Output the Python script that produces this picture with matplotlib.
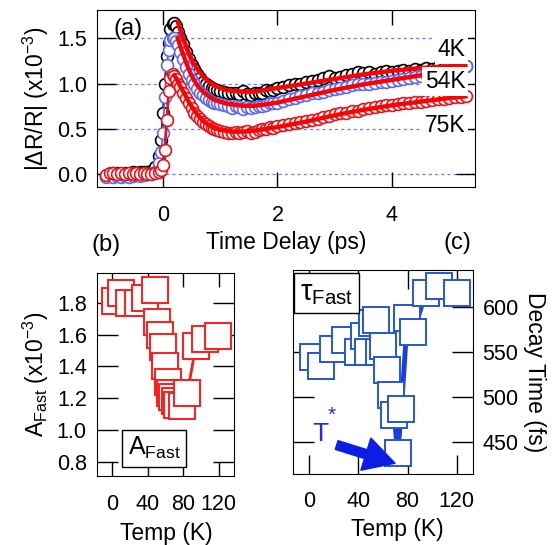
import matplotlib
matplotlib.use("Agg")
import matplotlib.pyplot as plt

plt.rcParams['font.family'] = ['Liberation Sans', 'DejaVu Sans']
plt.rcParams['mathtext.fontset'] = 'custom'
plt.rcParams['mathtext.rm'] = 'Liberation Sans'
plt.rcParams['mathtext.it'] = 'Liberation Sans:italic'
plt.rcParams['mathtext.bf'] = 'Liberation Sans:bold'

# ---- panel (a): transient reflectivity, units of 1e-3 ----
t = [-1.0, -0.93, -0.87, -0.8, -0.73, -0.67, -0.6, -0.53, -0.47, -0.4, -0.33, -0.27, -0.2, -0.13,
     -0.07, -0.03, 0.0, 0.03, 0.07, 0.1, 0.13, 0.17, 0.2, 0.23, 0.27, 0.3, 0.35, 0.4, 0.45, 0.5,
     0.55, 0.6, 0.65, 0.7, 0.75, 0.8, 0.85, 0.9, 0.95, 1.0, 1.07, 1.13, 1.2, 1.27, 1.33, 1.4,
     1.47, 1.53, 1.6, 1.67, 1.73, 1.8, 1.87, 1.93, 2.0, 2.1, 2.2, 2.3, 2.4, 2.5, 2.6, 2.7, 2.8,
     2.9, 3.0, 3.1, 3.2, 3.3, 3.4, 3.5, 3.6, 3.7, 3.8, 3.9, 4.0, 4.1, 4.2, 4.3, 4.4, 4.5, 4.6,
     4.7, 4.8, 4.9, 5.0, 5.1, 5.2, 5.3]
dr_4k = [-0.02, 0.0, 0.01, 0.01, 0.0, 0.01, 0.0, 0.02, 0.01, 0.03, 0.03, 0.02, 0.04, 0.08,
         0.2, 0.38, 0.68, 1.0, 1.3, 1.45, 1.6, 1.66, 1.67, 1.63, 1.57, 1.5, 1.43, 1.35, 1.27, 1.2,
         1.16, 1.1, 1.06, 1.02, 0.99, 0.97, 0.95, 0.94, 0.93, 0.92, 0.91, 0.9, 0.89, 0.9, 0.88, 0.92,
         0.88, 0.87, 0.9, 0.9, 0.89, 0.93, 0.92, 0.93, 0.95, 0.96, 0.98, 1.0, 0.99, 1.02, 1.03, 1.04, 1.06,
         1.08, 1.06, 1.07, 1.09, 1.1, 1.13, 1.12, 1.13, 1.11, 1.13, 1.14, 1.13, 1.14, 1.15, 1.14, 1.16, 1.15, 1.17,
         1.16, 1.18, 1.17, 1.18, 1.19, 1.18, 1.19]
dr_54k = [-0.03, -0.02, -0.03, -0.02, -0.03, -0.02, -0.03, -0.02, -0.01, -0.02, -0.01, 0.0, 0.0, 0.03,
          0.12, 0.25, 0.45, 0.85, 1.2, 1.37, 1.48, 1.5, 1.5, 1.47, 1.42, 1.35, 1.27, 1.18, 1.11, 1.04,
          0.99, 0.94, 0.9, 0.87, 0.84, 0.82, 0.8, 0.79, 0.78, 0.77, 0.76, 0.75, 0.73, 0.75, 0.74, 0.72,
          0.74, 0.73, 0.74, 0.75, 0.75, 0.76, 0.78, 0.78, 0.79, 0.81, 0.83, 0.84, 0.86, 0.87, 0.89, 0.9, 0.91,
          0.93, 0.94, 0.95, 0.96, 0.98, 0.99, 0.99, 1.0, 1.01, 1.02, 1.02, 1.03, 1.04, 1.05, 1.06, 1.07, 1.08, 1.1,
          1.12, 1.14, 1.15, 1.17, 1.18, 1.2, 1.19]
dr_75k = [-0.01, 0.01, 0.01, 0.0, 0.01, 0.0, 0.01, 0.0, 0.01, 0.0, 0.01, 0.0, 0.0, 0.01,
          0.02, 0.05, 0.1, 0.27, 0.6, 0.92, 1.06, 1.1, 1.08, 1.05, 1.0, 0.96, 0.9, 0.84, 0.78, 0.73,
          0.68, 0.64, 0.61, 0.58, 0.55, 0.53, 0.51, 0.5, 0.49, 0.48, 0.47, 0.45, 0.46, 0.47, 0.45, 0.47,
          0.48, 0.46, 0.47, 0.49, 0.5, 0.5, 0.52, 0.51, 0.53, 0.54, 0.55, 0.57, 0.58, 0.59, 0.6, 0.61, 0.63,
          0.64, 0.66, 0.67, 0.68, 0.7, 0.7, 0.72, 0.73, 0.74, 0.75, 0.76, 0.76, 0.77, 0.78, 0.79, 0.8, 0.8, 0.81,
          0.82, 0.83, 0.83, 0.84, 0.85, 0.85, 0.86]

fit_t = [0.25, 0.28, 0.32, 0.36, 0.4, 0.45, 0.5, 0.55, 0.6, 0.7, 0.8, 0.9, 1.0, 1.1, 1.2, 1.4,
         1.6, 1.8, 2.0, 2.5, 3.0, 3.5, 4.0, 4.5, 5.0, 5.32]
fit_4k = [1.70, 1.64, 1.56, 1.49, 1.42, 1.34, 1.27, 1.21, 1.16, 1.08, 1.02, 0.98, 0.95, 0.93, 0.92, 0.91,
          0.91, 0.93, 0.95, 1.0, 1.05, 1.1, 1.14, 1.17, 1.19, 1.2]
fit_54k = [1.52, 1.46, 1.38, 1.31, 1.24, 1.16, 1.09, 1.03, 0.98, 0.91, 0.86, 0.82, 0.8, 0.78, 0.77, 0.755,
           0.755, 0.77, 0.79, 0.86, 0.93, 0.99, 1.04, 1.09, 1.14, 1.17]
fit75_t = [0.17, 0.2, 0.25, 0.28, 0.32, 0.36, 0.4, 0.45, 0.5, 0.55, 0.6, 0.7, 0.8, 0.9, 1.0, 1.1, 1.2,
           1.4, 1.6, 1.8, 2.0, 2.5, 3.0, 3.5, 4.0, 4.5, 5.0, 5.32]
fit_75k = [1.1, 1.09, 1.04, 1.0, 0.95, 0.91, 0.86, 0.8, 0.75, 0.7, 0.66, 0.59, 0.54, 0.51, 0.49, 0.48, 0.47,
           0.47, 0.48, 0.5, 0.52, 0.58, 0.65, 0.71, 0.76, 0.8, 0.84, 0.86]

# ---- panel (b): fast amplitude vs temperature ----
temp_b = [3.4, 10.1, 19.2, 28.5, 37.2, 47.7, 50.3, 54.1, 56.7, 59.7, 62.3, 65.4, 67.9, 71.0,
          73.6, 79.2, 84.8, 94.3, 104.8, 119.4]
a_fast = [1.81, 1.86, 1.80, 1.80, 1.83, 1.88, 1.68, 1.60, 1.52, 1.40, 1.30, 1.23, 1.21, 1.18,
          1.16, 1.15, 1.23, 1.53, 1.57, 1.59]

# ---- panel (c): fast decay time vs temperature ----
temp_c = [3.0, 9.8, 19.6, 29.3, 39.4, 44.6, 47.5, 50.8, 54.1, 56.8, 60.3, 63.0, 66.3, 69.0,
          72.0, 75.0, 79.8, 84.7, 94.8, 105.4, 120.1]
tau_fast = [545, 534, 554, 564, 550, 568, 550, 582, 586, 550, 557, 530, 502, 480,
            437, 486, 588, 572, 616, 624, 616]

fig = plt.figure(figsize=(5.55, 5.45), dpi=100)

# panel (a)
ax = fig.add_axes([0.1748, 0.6574, 0.6811, 0.3243])
for yv in [0.0, 0.5, 1.0, 1.5]:
    ax.axhline(yv, color='#6f78ff', lw=0.9, ls=(0, (2.5, 2.5)), zorder=0)
ax.plot(t, dr_4k, '-o', color='black', lw=1.3, ms=8.5, mfc='white', mew=1.2, zorder=2)
ax.plot(t, dr_54k, '-o', color='#5a68f5', lw=1.3, ms=8.5, mfc='white', mew=1.2, zorder=3)
ax.plot(t, dr_75k, '-o', color='#e3151b', lw=2.0, ms=8.5, mfc='white', mew=1.2, zorder=4)
ax.plot(fit_t, fit_4k, color='#ff0000', lw=3.2, zorder=5, solid_capstyle='butt')
ax.plot(fit_t, fit_54k, color='#ff0000', lw=3.2, zorder=5, solid_capstyle='butt')
ax.plot(fit75_t, fit_75k, color='#ff0000', lw=3.2, zorder=5, solid_capstyle='butt')
ax.set_xlim(-1.15, 5.45)
ax.set_ylim(-0.137, 1.81)
ax.set_xticks([0, 2, 4])
ax.set_yticks([0.0, 0.5, 1.0, 1.5])
ax.set_yticklabels(['0.0', '0.5', '1.0', '1.5'])
ax.tick_params(direction='in', top=True, right=True, labelsize=15.5, width=1)
ax.tick_params(axis='y', length=14, pad=7)
ax.tick_params(axis='x', length=11, pad=13)
ax.set_xlabel('Time Delay (ps)', fontsize=16.5, labelpad=4)
ax.set_ylabel('|ΔR/R| (x10$^{-3}$)', fontsize=16.5)
ax.text(-0.6, 1.6, '(a)', fontsize=17, ha='center', va='center')
for lab, yv in [('4K', 1.37), ('54K', 1.02), ('75K', 0.54)]:
    ax.text(5.28, yv, lab, fontsize=16.5, ha='right', va='center', zorder=10,
            bbox=dict(facecolor='white', edgecolor='none', pad=2))

# panel (b)
axb = fig.add_axes([0.1739, 0.1266, 0.2477, 0.373])
axb.plot(temp_b, a_fast, '-s', color='#ff1a1a', lw=2, ms=19, mfc='white', mew=1.4)
axb.set_xlim(-18, 137.5)
axb.set_ylim(0.71, 1.99)
axb.set_xticks([0, 40, 80, 120])
axb.set_yticks([0.8, 1.0, 1.2, 1.4, 1.6, 1.8])
axb.tick_params(direction='in', top=True, right=True, labelsize=15.5, width=1)
axb.tick_params(axis='y', length=15, pad=7)
axb.tick_params(axis='x', length=10, pad=13)
axb.set_xlabel('Temp (K)', fontsize=16.5)
axb.xaxis.set_label_coords(0.51, -0.225)
axb.set_ylabel('A$_{\\mathregular{Fast}}$ (x10$^{-3}$)', fontsize=16.5)
axb.text(47, 0.885, 'A$_{\\mathregular{Fast}}$', fontsize=18, ha='center', va='center',
         bbox=dict(boxstyle='square,pad=0.22', facecolor='white', edgecolor='black', lw=1))

# panel (c)
axc = fig.add_axes([0.5285, 0.1303, 0.3232, 0.3743])
axc.plot(temp_c, tau_fast, '-s', color='#1a3ee0', lw=3.5, ms=19, mfc='white', mec='#2456d6', mew=1.4)
axc.set_xlim(-13, 133)
axc.set_ylim(414, 641.6)
axc.set_xticks([0, 40, 80, 120])
axc.set_yticks([450, 500, 550, 600])
axc.yaxis.tick_right()
axc.yaxis.set_label_position('right')
axc.tick_params(direction='in', top=True, left=True, right=True, labelsize=15.5, width=1)
axc.tick_params(axis='y', length=15, pad=7)
axc.tick_params(axis='x', length=14, pad=12)
axc.set_xlabel('Temp (K)', fontsize=16.5)
axc.xaxis.set_label_coords(0.578, -0.215)
axc.set_ylabel('Decay Time (fs)', fontsize=16.5, rotation=270, labelpad=20)
axc.text(14, 616, 'τ$_{\\mathregular{Fast}}$', fontsize=21, ha='center', va='center',
         bbox=dict(boxstyle='square,pad=0.2', facecolor='white', edgecolor='black', lw=1))
axc.text(9, 459, 'T', fontsize=19, color='#1a2ee6', ha='center', va='center')
axc.text(18.5, 480, '*', fontsize=15, color='#1a2ee6', ha='center', va='center')
axc.annotate('', xy=(69.8, 426), xytext=(22.3, 446.3),
             arrowprops=dict(arrowstyle='simple,head_length=1.0,head_width=1.1,tail_width=0.3',
                             color='#0a1ee6', mutation_scale=22, shrinkA=0, shrinkB=0), zorder=6)

fig.text(106 / 555, 1 - 245 / 545, '(b)', fontsize=17, ha='center', va='center')
fig.text(457 / 555, 1 - 243 / 545, '(c)', fontsize=17, ha='center', va='center')

fig.savefig('out.png', dpi=100)
